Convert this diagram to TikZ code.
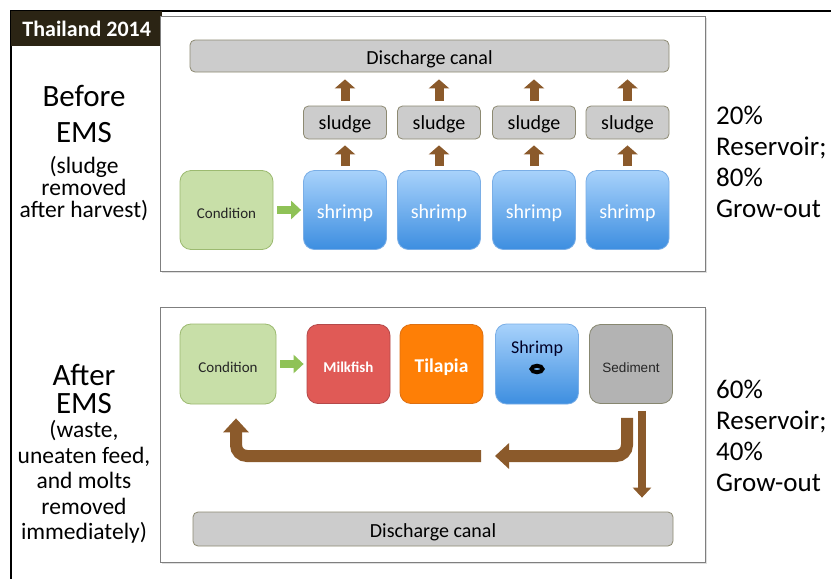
\documentclass[tikz,border=0pt]{standalone}
\usepackage{fontspec}
\setmainfont{Carlito}
\newfontfamily\arialfont{Liberation Sans}
\usetikzlibrary{arrows.meta,shadows}

\definecolor{thaiband}{HTML}{2B2414}
\definecolor{canalgray}{HTML}{CCCCCC}
\definecolor{canalline}{HTML}{8D8A72}
\definecolor{pondtop}{HTML}{A8D2FB}
\definecolor{pondbot}{HTML}{3D8EE0}
\definecolor{pondline}{HTML}{7AAEE6}
\definecolor{condfill}{HTML}{C8DFA8}
\definecolor{condline}{HTML}{9CBA70}
\definecolor{milkfill}{HTML}{E05A56}
\definecolor{milkline}{HTML}{B4494A}
\definecolor{tilafill}{HTML}{FE7F06}
\definecolor{tilaline}{HTML}{DD7012}
\definecolor{sedfill}{HTML}{B3B3B3}
\definecolor{sedline}{HTML}{878770}
\definecolor{mud}{HTML}{8B5A2B}
\definecolor{leafarrow}{HTML}{8FC257}
\definecolor{panelline}{HTML}{7F7F7F}

\newcommand{\tightlines}{\lineskiplimit-100pt\relax}

\tikzset{
  basebox/.style={rectangle, draw, line width=0.8pt, inner sep=0pt, rounded corners=5pt,
    text height=16pt, text depth=0pt},
  canal/.style={basebox, fill=canalgray, draw=canalline, minimum width=479pt,
    minimum height=32pt, font=\fontsize{20}{24}\selectfont},
  sludgebox/.style={basebox, fill=canalgray, draw=canalline, minimum width=83pt,
    minimum height=33pt, text height=14.5pt, font=\fontsize{20}{24}\selectfont},
  pond/.style={basebox, rounded corners=11pt, draw=pondline, top color=pondtop,
    bottom color=pondbot, minimum width=83pt, minimum height=79pt},
  condbox/.style={basebox, rounded corners=11pt, fill=condfill, draw=condline,
    minimum height=79pt, text=black!85, font=\fontsize{15}{18}\selectfont},
  fishbox/.style={basebox, rounded corners=11pt, minimum width=83pt, minimum height=79pt},
  panel/.style={draw=panelline, line width=0.8pt, fill=white,
    drop shadow={opacity=0.25, shadow xshift=1.5pt, shadow yshift=-1.5pt}},
  mudup/.style={draw=mud, line width=9pt, -{Triangle[width=20pt,length=9pt]}},
  leaf/.style={draw=leafarrow, line width=8pt, -{Triangle[width=18pt,length=10pt]},
    shorten <=4pt, shorten >=2pt},
  retarr/.style={draw=mud, line width=12pt, rounded corners=11pt,
    -{Triangle[width=25pt,length=14pt]}},
  droparr/.style={draw=mud, line width=8pt, -{Triangle[width=18pt,length=10pt]}},
  titletext/.style={inner sep=0pt, align=center, anchor=north},
  sidenote/.style={inner sep=0pt, align=left, anchor=north west,
    font=\fontsize{27}{31}\selectfont\tightlines}
}

\begin{document}
\begin{tikzpicture}[x=1pt, y=-1pt]
\useasboundingbox (0,0) rectangle (831,579);

% frame and year tag
\draw[line width=2pt] (831,11) -- (11,11) -- (11,579);
\node[fill=thaiband, anchor=north west, inner sep=0pt, minimum width=151pt,
    minimum height=35pt, text=white, font=\fontsize{22}{26}\selectfont\bfseries]
    (yeartag) at (11,11) {Thailand 2014};

% before EMS
\draw[panel] (160,16) rectangle (705,271);
\node[canal] (canalA) at (429.5,56) {Discharge canal};

\node[sludgebox] (sludgeA) at (345,122.5) {sludge};
\node[sludgebox] (sludgeB) at (439,122.5) {sludge};
\node[sludgebox] (sludgeC) at (534,122.5) {sludge};
\node[sludgebox] (sludgeD) at (627.5,122.5) {sludge};

\node[pond, text=white, font=\fontsize{20}{24}\selectfont] (pondA) at (345,210) {shrimp};
\node[pond, text=white, font=\fontsize{20}{24}\selectfont] (pondB) at (439,210) {shrimp};
\node[pond, text=white, font=\fontsize{20}{24}\selectfont] (pondC) at (534,210) {shrimp};
\node[pond, text=white, font=\fontsize{20}{24}\selectfont] (pondD) at (627.5,210) {shrimp};

\node[condbox, minimum width=93pt] (condA) at (226.5,210) {Condition};

\draw[leaf] (condA) -- (pondA);
\draw[mudup, shorten <=4pt, shorten >=6pt] (pondA.north) -- (sludgeA.south);
\draw[mudup, shorten <=4pt, shorten >=6pt] (pondB.north) -- (sludgeB.south);
\draw[mudup, shorten <=4pt, shorten >=6pt] (pondC.north) -- (sludgeC.south);
\draw[mudup, shorten <=4pt, shorten >=6pt] (pondD.north) -- (sludgeD.south);
\draw[mudup, shorten <=5pt, shorten >=7pt] (sludgeA.north) -- (sludgeA.north |- canalA.south);
\draw[mudup, shorten <=5pt, shorten >=7pt] (sludgeB.north) -- (sludgeB.north |- canalA.south);
\draw[mudup, shorten <=5pt, shorten >=7pt] (sludgeC.north) -- (sludgeC.north |- canalA.south);
\draw[mudup, shorten <=5pt, shorten >=7pt] (sludgeD.north) -- (sludgeD.north |- canalA.south);

\node[titletext, font=\fontsize{31}{36}\selectfont\tightlines]
    (beforeT) at (84,85.5) {Before\\EMS};
\node[titletext, font=\fontsize{23.5}{22}\selectfont\tightlines]
    (beforeN) at (84,156.5) {(sludge\\removed\\after harvest)};
\node[sidenote] (beforeP) at (716,106) {20\%\\Reservoir;\\80\%\\Grow-out};

% after EMS
\draw[panel] (160,307) rectangle (705,562);
\node[canal, minimum width=480pt, minimum height=34pt] (canalB) at (433,529) {Discharge canal};

\node[condbox, minimum width=96pt, minimum height=80pt] (condB) at (228,364) {Condition};
\node[fishbox, fill=milkfill, draw=milkline, text=white,
    font=\fontsize{15}{18}\selectfont\bfseries] (milk) at (348.5,364) {Milkfish};
\node[fishbox, fill=tilafill, draw=tilaline, text=white,
    font=\fontsize{19.5}{23}\selectfont\bfseries] (tilapia) at (441.5,364) {Tilapia};
\node[pond, minimum height=80pt] (pondE) at (537,364) {};
\node[anchor=base, inner sep=0pt, text=black!85!blue, font=\fontsize{18}{22}\selectfont]
    (pondElbl) at ([yshift=11pt]pondE.center) {Shrimp};
\draw[line width=4pt] ([yshift=-5pt]pondE.center) ellipse [x radius=5.5pt, y radius=3.2pt];
\node[fishbox, fill=sedfill, draw=sedline, text=black!85,
    font=\arialfont\fontsize{13.5}{16}\selectfont] (sed) at (631,364) {Sediment};

\draw[leaf, shorten >=3pt] (condB) -- (milk);

\coordinate (retmid) at (495,456);
\coordinate (retgap) at (481,456);
\draw[retarr] ([xshift=-4pt,yshift=-14pt]sed.south) |- (retmid);
\draw[retarr] (retgap) -| ([xshift=8pt,yshift=-14pt]condB.south);
\coordinate (drop) at ([xshift=11pt,yshift=-7pt]sed.south);
\draw[droparr, shorten >=14pt] (drop) -- (drop |- canalB.north);

\node[titletext, font=\fontsize{31}{28}\selectfont\tightlines]
    (afterT) at (84,364.5) {After\\EMS};
\node[titletext, font=\fontsize{23.5}{25.5}\selectfont\tightlines]
    (afterN) at (84,420.5) {(waste,\\uneaten feed,\\and molts\\removed\\immediately)};
\node[sidenote] (afterP) at (716,379.5) {60\%\\Reservoir;\\40\%\\Grow-out};
\end{tikzpicture}
\end{document}
